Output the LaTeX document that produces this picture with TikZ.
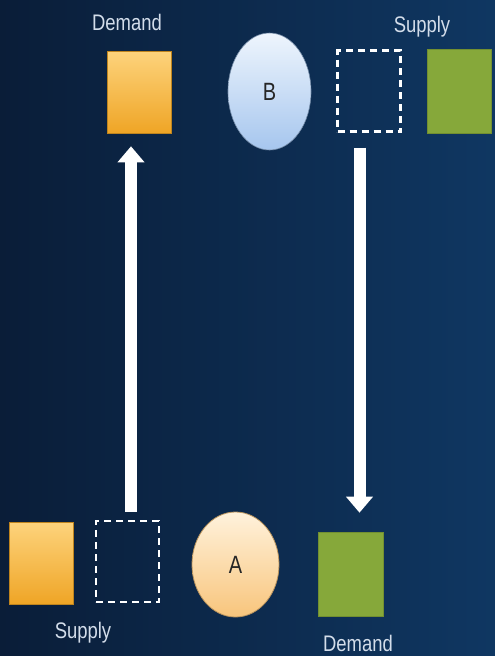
\documentclass[tikz,border=0pt]{standalone}
\usepackage{fontspec}
\setmainfont{Liberation Sans}
\usetikzlibrary{shapes.geometric,arrows.meta}
\definecolor{bgL}{HTML}{0A1D38}
\definecolor{bgR}{HTML}{0F3762}
\definecolor{orT}{HTML}{FDD37C}
\definecolor{orB}{HTML}{EFA526}
\definecolor{grn}{HTML}{86A83A}
\definecolor{blT}{HTML}{EEF5FD}
\definecolor{blB}{HTML}{A6C6EE}
\definecolor{apT}{HTML}{FFF2DC}
\definecolor{apB}{HTML}{F8C57C}
\definecolor{lbl}{HTML}{D3DDEA}
\tikzset{
  orbox/.style={rectangle,inner sep=0,minimum width=64pt,minimum height=82pt,top color=orT,bottom color=orB,draw=orB!80!black,line width=0.6pt},
  grbox/.style={rectangle,inner sep=0,minimum width=64pt,minimum height=84pt,fill=grn,draw=grn!85!black,line width=0.6pt},
  dashbox/.style={rectangle,inner sep=0,minimum width=63pt,minimum height=81pt,draw=white,line width=2.2pt,dash pattern=on 7pt off 5pt},
  lab/.style={font=\fontsize{22.5}{22.5}\selectfont,text=lbl,xscale=0.82,inner sep=0},
  letter/.style={font=\fontsize{25}{25}\selectfont,text=black!85,xscale=0.8},
  bigarrow/.style={draw=white,line width=12pt,-{Triangle[width=26pt,length=16pt]}}
}
\begin{document}
\begin{tikzpicture}[x=1pt,y=-1pt]
\shade[left color=bgL,right color=bgR] (0,0) rectangle (495,656);
\useasboundingbox (0,0) rectangle (495,656);
% top row
\node[orbox] (demT) at (139,92) {};
\node[ellipse,inner sep=0,minimum width=83pt,minimum height=117pt,top color=blT,bottom color=blB,draw=blB!70!black,line width=0.6pt] (B) at (269.5,91.5) {};
\node[letter] at (B) {B};
\node[dashbox] (dashT) at (369,91) {};
\node[grbox] (supT) at (459,91) {};
\node[lab] (labDemT) at (127,22) {Demand};
\node[lab] (labSupT) at (422,27) {Supply};
% bottom row
\node[orbox] (supB) at (41,563) {};
\node[dashbox] (dashB) at (127.5,561.5) {};
\node[ellipse,inner sep=0,minimum width=87pt,minimum height=105pt,top color=apT,bottom color=apB,draw=apB!75!black,line width=0.8pt] (A) at (235.5,564.5) {};
\node[letter] at (A) {A};
\node[grbox,minimum width=65pt] (demB) at (350.5,574) {};
\node[lab] (labSupB) at (83,633) {Supply};
\node[lab] (labDemB) at (358,643) {Demand};
% arrows
\draw[bigarrow,shorten <=8pt,shorten >=13pt] ([xshift=3.5pt]dashB.north) -- ([xshift=3.5pt]dashB.north |- demT.south);
\draw[bigarrow,shorten <=15pt,shorten >=19pt] ([xshift=-9.5pt]dashT.south) -- ([xshift=-9.5pt]dashT.south |- demB.north);
\end{tikzpicture}
\end{document}
